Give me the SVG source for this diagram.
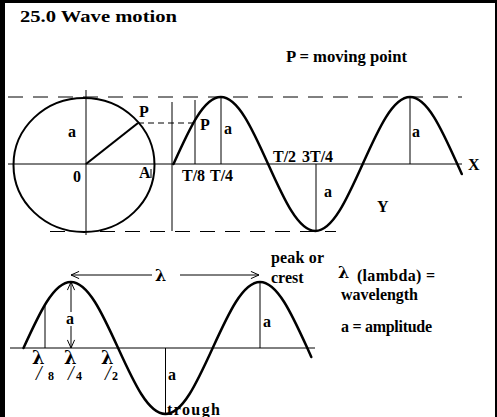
<svg xmlns="http://www.w3.org/2000/svg" width="497" height="417" viewBox="0 0 497 417">
<defs>
<style>
text{font-family:"Liberation Serif","Times New Roman",serif;font-weight:bold;font-size:16px;fill:#000}
.thin{stroke:#000;stroke-width:1;fill:none}
.dash{stroke:#000;stroke-width:1;fill:none;stroke-dasharray:15 10}
.wave{stroke:#000;stroke-width:2.5;fill:none;stroke-linecap:round;stroke-linejoin:round}
.lam{font-family:"DejaVu Serif","Liberation Serif",serif;font-weight:bold}
.sl{font-style:italic;font-weight:normal;font-size:20px}
</style>
<marker id="ah" viewBox="0 0 10 10" refX="10" refY="5" markerWidth="9" markerHeight="9" markerUnits="userSpaceOnUse" orient="auto-start-reverse">
<path d="M1,1 L10,5 L1,9" fill="none" stroke="#000" stroke-width="1.1"/>
</marker>
</defs>
<rect x="0" y="0" width="497" height="417" fill="#000"/>
<rect x="5" y="3" width="490" height="414" fill="#fff"/>

<g id="title"><text x="20" y="21.5" font-size="19" textLength="157" lengthAdjust="spacingAndGlyphs">25.0 Wave motion</text></g>
<g id="legend-top"><text x="286" y="62" textLength="121" lengthAdjust="spacingAndGlyphs">P = moving point</text></g>

<g id="top-diagram">
<line class="dash" x1="8" y1="97" x2="462" y2="97"/>
<line class="dash" x1="50" y1="231.5" x2="336" y2="231.5"/>
<line class="thin" x1="8" y1="164" x2="462" y2="164"/>
<line class="thin" x1="86" y1="90" x2="86" y2="235"/>
<line class="thin" x1="172" y1="102" x2="172" y2="231"/>
<line class="thin" x1="195" y1="100" x2="195" y2="164"/>
<line class="thin" x1="221" y1="97" x2="221" y2="164"/>
<line class="thin" x1="316" y1="164" x2="316" y2="231"/>
<line class="thin" x1="410" y1="97" x2="410" y2="164"/>
<line class="thin" x1="151" y1="169" x2="151" y2="178"/>
<ellipse cx="84" cy="165" rx="70.5" ry="67" fill="none" stroke="#000" stroke-width="2"/>
<line x1="86" y1="164" x2="138" y2="123" stroke="#000" stroke-width="2.2"/>
<line x1="138" y1="123" x2="195" y2="123" stroke="#000" stroke-width="1" stroke-dasharray="6 4"/>
<path class="wave" d="M173.5,164 c15.81,-35.18 30.18,-67 47.3,-67 c17.12,0 31.49,31.82 47.3,67 c15.81,35.18 30.18,67 47.3,67 c17.12,0 31.49,-31.82 47.3,-67 c15.81,-35.18 30.18,-67 47.3,-67 c17.12,0 31.49,31.82 47.3,67 l4.5,10"/>
<text x="139" y="117">P</text>
<text x="68" y="137">a</text>
<text x="73" y="182">0</text>
<text x="139" y="178">A</text>
<text x="200" y="130">P</text>
<text x="224" y="134">a</text>
<text x="182" y="181">T/8</text>
<text x="210" y="181">T/4</text>
<text x="273" y="162">T/2</text>
<text x="302" y="162">3T/4</text>
<text x="468" y="170">X</text>
<text x="324" y="197">a</text>
<text x="377" y="212">Y</text>
<text x="412" y="137">a</text>
</g>

<g id="bottom-diagram">
<line class="thin" x1="10" y1="348" x2="315" y2="348"/>
<line class="thin" x1="45" y1="306" x2="45" y2="348"/>
<line class="thin" x1="165.5" y1="348" x2="165.5" y2="414"/>
<line class="thin" x1="260" y1="282" x2="260" y2="348"/>
<path class="wave" d="M23.5,348 c15.81,-34.66 30.18,-66 47.3,-66 c17.12,0 31.49,31.34 47.3,66 c15.81,34.66 30.18,66 47.3,66 c17.12,0 31.49,-31.34 47.3,-66 c15.81,-34.66 30.18,-66 47.3,-66 c17.12,0 31.49,31.34 47.3,66 l4,9"/>
<text x="168" y="380">a</text>
<text x="263" y="327">a</text>
<text x="167" y="415" textLength="53" lengthAdjust="spacing">trough</text>
<g id="lambda-fractions">
<text x="32" y="364"><tspan class="lam" font-size="18">λ</tspan><tspan class="sl" x="36" y="380">/</tspan><tspan x="48" y="380" font-size="12">8</tspan></text>
<text x="64" y="364"><tspan class="lam" font-size="18">λ</tspan><tspan class="sl" x="68" y="380">/</tspan><tspan x="76" y="380" font-size="12">4</tspan></text>
<text x="101" y="364"><tspan class="lam" font-size="18">λ</tspan><tspan class="sl" x="105" y="380">/</tspan><tspan x="112" y="380" font-size="12">2</tspan></text>
</g>
</g>

<g id="connectors">
<line class="thin" x1="152" y1="275" x2="71" y2="275" marker-end="url(#ah)"/>
<line class="thin" x1="180" y1="275" x2="259" y2="275" marker-end="url(#ah)"/>
<line class="thin" x1="71" y1="282" x2="71" y2="348" marker-start="url(#ah)" marker-end="url(#ah)"/>
</g>

<g id="labels-bottom">
<text class="lam" x="155" y="281" font-size="20">λ</text>
<rect x="65" y="312" width="11" height="14" fill="#fff"/>
<text x="66" y="324">a</text>
<text x="271" y="263" textLength="53" lengthAdjust="spacing">peak or</text>
<text x="271" y="283">crest</text>
<text class="lam" x="338" y="278" font-size="21">λ</text>
<text x="357" y="281" font-size="15" textLength="78" lengthAdjust="spacing">(lambda) =</text>
<text x="341" y="300" textLength="77" lengthAdjust="spacing">wavelength</text>
<text x="341" y="332" textLength="91" lengthAdjust="spacing">a = amplitude</text>
</g>
</svg>
